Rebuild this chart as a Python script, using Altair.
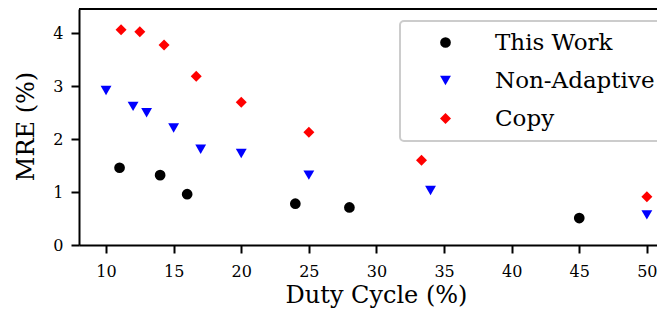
import altair as alt
import pandas as pd

series_names = ["This Work", "Non-Adaptive", "Copy"]
series_colors = ["#000000", "#0000ff", "#ff0000"]
series_shapes = ["circle", "triangle-down", "diamond"]
series_sizes = [115, 121, 144]

this_work_x = [11, 14, 16, 24, 28, 45]
this_work_y = [1.46, 1.32, 0.96, 0.78, 0.71, 0.51]
non_adaptive_x = [10, 12, 13, 15, 17, 20, 25, 34, 50]
non_adaptive_y = [2.92, 2.62, 2.50, 2.21, 1.81, 1.73, 1.32, 1.03, 0.57]
copy_x = [11.11, 12.5, 14.29, 16.67, 20, 25, 33.33, 50]
copy_y = [4.07, 4.03, 3.78, 3.19, 2.70, 2.13, 1.60, 0.91]

x_ticks = [10, 15, 20, 25, 30, 35, 40, 45, 50]
y_ticks = [0, 1, 2, 3, 4]

rows = []
for name, xs, ys in zip(series_names,
                        [this_work_x, non_adaptive_x, copy_x],
                        [this_work_y, non_adaptive_y, copy_y]):
    for xv, yv in zip(xs, ys):
        rows.append({"series": name, "duty": xv, "mre": yv})
df = pd.DataFrame(rows)

FONT = "DejaVu Serif"
W, H = 578, 236

points = alt.Chart(df).mark_point(filled=True, opacity=1, strokeWidth=0).encode(
    x=alt.X("duty:Q", scale=alt.Scale(domain=[8, 50.75], nice=False, zero=False),
            axis=alt.Axis(values=x_ticks, title="Duty Cycle (%)", grid=False,
                          tickSize=8, tickWidth=2, tickColor="black",
                          domainWidth=2, domainColor="black",
                          labelFont=FONT, labelFontSize=16, labelColor="black",
                          labelPadding=10,
                          titleFont=FONT, titleFontSize=24, titleFontWeight="normal",
                          titleColor="black", titleBaseline="alphabetic", titleY=57,
                          titleX=297, titleAlign="center")),
    y=alt.Y("mre:Q", scale=alt.Scale(domain=[0, 4.46], nice=False),
            axis=alt.Axis(values=y_ticks, title="MRE (%)", grid=False,
                          tickSize=8, tickWidth=2, tickColor="black",
                          domainWidth=2, domainColor="black",
                          labelFont=FONT, labelFontSize=16, labelColor="black",
                          labelPadding=8,
                          titleFont=FONT, titleFontSize=24, titleFontWeight="normal",
                          titleColor="black", titleBaseline="alphabetic",
                          titleX=-46, titleY=117, titleAngle=-90, titleAlign="center")),
    color=alt.Color("series:N", scale=alt.Scale(domain=series_names, range=series_colors),
                    legend=alt.Legend(title=None, orient="none", legendX=321, legendY=12,
                                      labelFont=FONT, labelFontSize=23, labelColor="black",
                                      labelLimit=400,
                                      padding=10, rowPadding=14, symbolOffset=24,
                                      labelOffset=38, strokeColor="#cccccc",
                                      cornerRadius=4, fillColor="white")),
    shape=alt.Shape("series:N", scale=alt.Scale(domain=series_names, range=series_shapes)),
    size=alt.Size("series:N", scale=alt.Scale(domain=series_names, range=series_sizes)),
)

top_border = alt.Chart(df).mark_rule(color="black", strokeWidth=2).encode(
    x=alt.value(0), x2=alt.value(W), y=alt.value(0)
)

chart = alt.layer(top_border, points).properties(
    width=W, height=H,
    autosize=alt.AutoSizeParams(type="none"),
    padding={"left": 71, "top": 1, "right": 0, "bottom": 70},
).configure_view(stroke=None).configure_legend(strokeWidth=2)

chart.save("out.html", embed_options={"renderer": "svg", "actions": False})
